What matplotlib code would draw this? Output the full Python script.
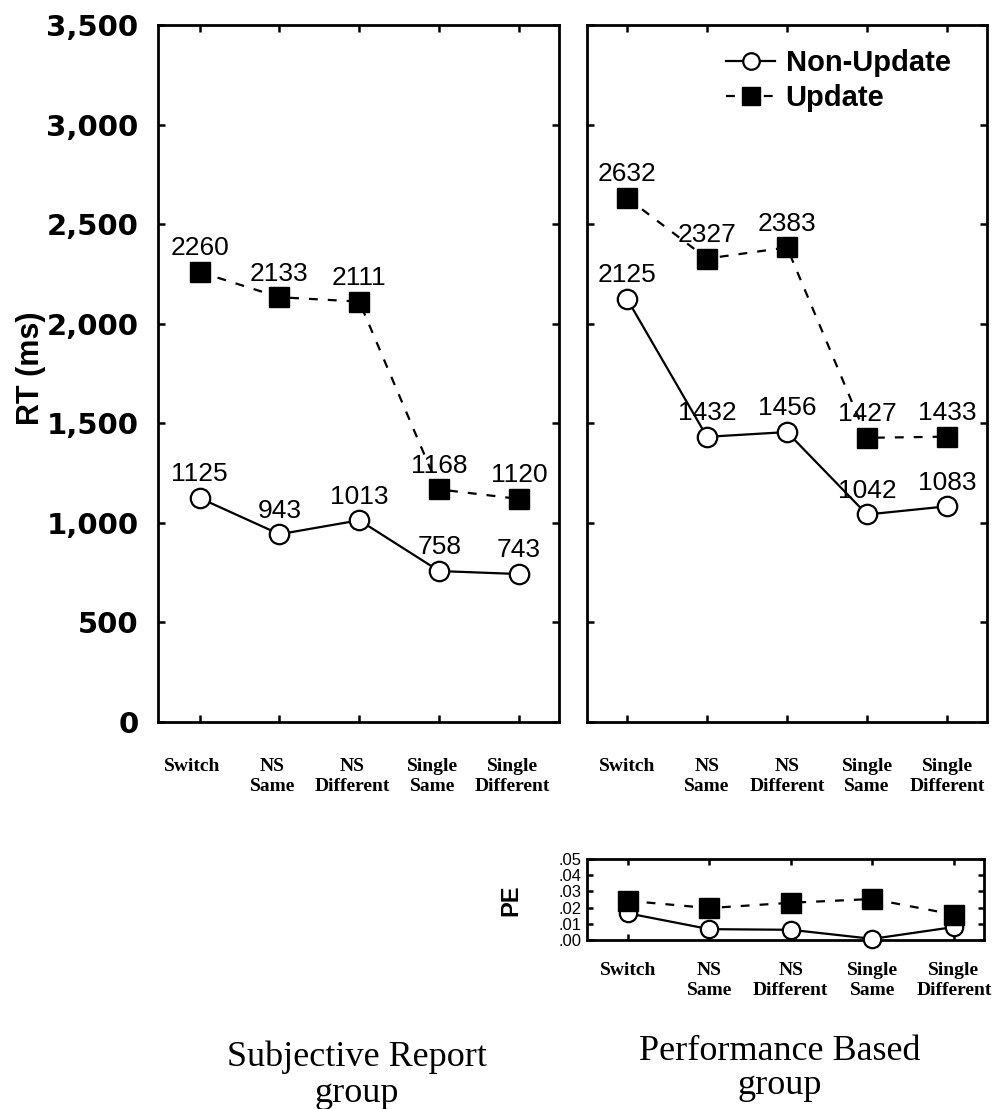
import matplotlib
matplotlib.use("Agg")
import matplotlib.pyplot as plt
import matplotlib.transforms as mtransforms

categories = ["Switch", "NS\nSame", "NS\nDifferent", "Single\nSame", "Single\nDifferent"]

subj_non_update = [1125, 943, 1013, 758, 743]
subj_update = [2260, 2133, 2111, 1168, 1120]

perf_non_update = [2125, 1432, 1456, 1042, 1083]
perf_update = [2632, 2327, 2383, 1427, 1433]

pe_non_update = [0.0165, 0.0067, 0.0063, 0.0007, 0.008]
pe_update = [0.0242, 0.0197, 0.023, 0.0253, 0.0157]

rt_ticks = [0, 500, 1000, 1500, 2000, 2500, 3000, 3500]
pe_ticks = [0.00, 0.01, 0.02, 0.03, 0.04, 0.05]

group_labels = ["Subjective Report\ngroup", "Performance Based\ngroup"]
legend_labels = ["Non-Update", "Update"]

SANS = "Liberation Sans"
SERIF = "Liberation Serif"

W, H = 996, 1109
fig = plt.figure(figsize=(W / 100, H / 100), dpi=100)

def fx(px):
    return px / W

def fy(py):
    return 1 - py / H

ax1 = fig.add_axes([fx(158), fy(722), fx(559) - fx(158), fy(25) - fy(722)])
ax2 = fig.add_axes([fx(587), fy(722), fx(987) - fx(587), fy(25) - fy(722)])
ax3 = fig.add_axes([fx(587), fy(940), fx(984) - fx(587), fy(859) - fy(940)])

x = list(range(len(categories)))

def style_axes(ax, ylim, yticks, show_ylabels, xlabel_pad, xlim=(-0.52, 4.5)):
    ax.set_xlim(*xlim)
    ax.set_ylim(*ylim)
    for s in ax.spines.values():
        s.set_linewidth(2.0)
    ax.set_xticks(x)
    ax.set_xticklabels(categories, fontfamily=SERIF, fontweight="bold", fontsize=14,
                       linespacing=1.2)
    ax.set_yticks(yticks)
    ax.tick_params(axis="x", direction="in", top=True, bottom=True, length=5, width=1.8,
                   pad=xlabel_pad)
    ax.tick_params(axis="y", direction="in", left=True, right=True, length=5, width=1.8,
                   labelleft=show_ylabels)

def plot_series(ax, non, upd, ms_sq, ms_c, labels=True):
    ax.plot(x, non, color="black", lw=1.6, marker="o", ms=ms_c, mfc="white", mec="black",
            mew=1.6, zorder=3, label=legend_labels[0])
    ax.plot(x, upd, color="black", lw=1.6, ls=(0, (4.0, 4.5)), marker="s", ms=ms_sq,
            mfc="black", mec="black", zorder=4, label=legend_labels[1])
    if labels:
        for xi, v in zip(x, non):
            ax.annotate(f"{v}", (xi, v), xytext=(0, 12), textcoords="offset points",
                        ha="center", va="baseline", fontsize=19, fontfamily=SANS, zorder=5)
        for xi, v in zip(x, upd):
            ax.annotate(f"{v}", (xi, v), xytext=(0, 12), textcoords="offset points",
                        ha="center", va="baseline", fontsize=19, fontfamily=SANS, zorder=5)

# Main panels
style_axes(ax1, (0, 3500), rt_ticks, True, 26)
style_axes(ax2, (0, 3500), rt_ticks, False, 26, xlim=(-0.5, 4.5))
ax1.set_yticklabels([f"{t:,}" for t in rt_ticks], fontfamily="DejaVu Sans", fontweight="bold",
                    fontsize=21)
ax1.tick_params(axis="y", pad=14)

plot_series(ax1, subj_non_update, subj_update, 15, 14)
plot_series(ax2, perf_non_update, perf_update, 15, 14)

# shift left panel category labels slightly left
off = mtransforms.ScaledTranslation(-7 / 100, 0, fig.dpi_scale_trans)
for lab in ax1.get_xticklabels():
    lab.set_transform(lab.get_transform() + off)

leg = ax2.legend(loc="upper right", bbox_to_anchor=(0.96, 0.995), frameon=False,
                 prop={"family": SANS, "weight": "bold", "size": 21},
                 handlelength=1.7, handletextpad=0.35, labelspacing=0.25, borderpad=0.2,
                 markerscale=0.85)

fig.text(fx(31), fy(368), "RT (ms)", rotation=90, ha="center", va="center",
         fontfamily=SANS, fontweight="bold", fontsize=22)

# PE panel
style_axes(ax3, (0, 0.05), pe_ticks, True, 16, xlim=(-0.5, 4.37))
ax3.set_yticklabels([f"{t:.2f}"[1:] for t in pe_ticks], fontfamily=SANS, fontsize=12)
ax3.tick_params(axis="y", pad=4, length=4)
ax3.tick_params(axis="x", length=4)
ax3.plot(x, pe_non_update, color="black", lw=1.6, marker="o", ms=12.5, mfc="white",
         mec="black", mew=1.6, zorder=3, clip_on=False)
ax3.plot(x, pe_update, color="black", lw=1.6, ls=(0, (4.0, 4.5)), marker="s", ms=14,
         mfc="black", mec="black", zorder=4, clip_on=False)
fig.text(fx(511), fy(900), "PE", rotation=90, ha="center", va="center",
         fontfamily=SANS, fontweight="bold", fontsize=17)

# Group labels
fig.text(fx(357), fy(1040), group_labels[0], ha="center", va="top",
         fontfamily=SERIF, fontsize=26, linespacing=1.15)
fig.text(fx(780), fy(1035), group_labels[1], ha="center", va="top",
         fontfamily=SERIF, fontsize=26, linespacing=1.05)

fig.savefig("out.png", dpi=100)
